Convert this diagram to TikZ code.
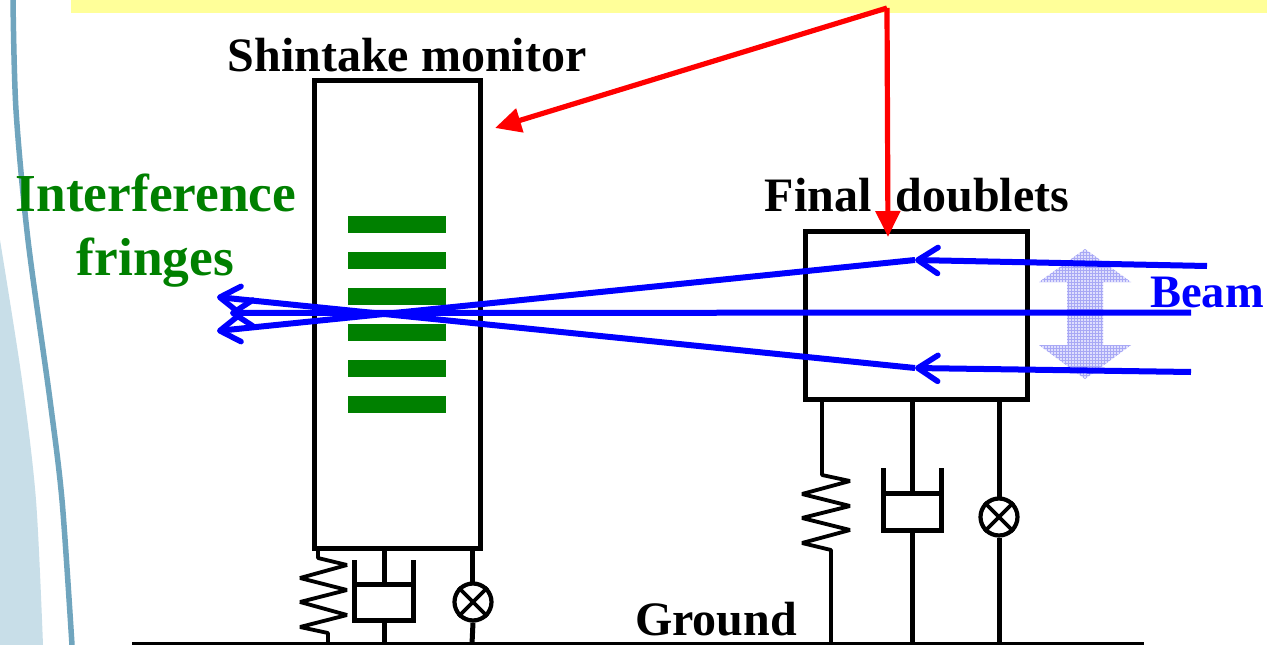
\documentclass[tikz,border=0pt]{standalone}
\usepackage{fontspec}
\setmainfont{Liberation Serif}
\usetikzlibrary{arrows.meta}
\definecolor{fringe}{RGB}{0,128,0}
\definecolor{beamblue}{RGB}{0,0,255}
\definecolor{sheet}{RGB}{255,255,153}
\definecolor{streak}{RGB}{112,165,190}
\definecolor{pale}{RGB}{200,222,232}
\definecolor{ditherlo}{RGB}{222,222,253}
\definecolor{ditherhi}{RGB}{168,168,245}
\tikzset{
  mech/.style={draw=black,line width=5pt,line cap=butt},
  coil/.style={draw=black,line width=3.8pt,line cap=butt,line join=bevel},
  boxed/.style={draw=black,line width=5pt,fill=none,inner sep=0pt},
  barfringe/.style={fill=fringe,draw=none},
  beamline/.style={draw=beamblue,line width=6pt,-{Straight Barb[length=20pt,width=26pt,line width=5.6pt,round]}},
  redarrow/.style={draw=red,line width=5.2pt,-{Triangle[length=26pt,width=24pt]}},
  lbl/.style={font=\bfseries,inner sep=0pt,anchor=base},
}
\begin{document}
\begin{tikzpicture}[x=1pt,y=-1pt]
\useasboundingbox (0,0) rectangle (1267,645);
\fill[white] (0,0) rectangle (1267,645);
% left decoration
\fill[pale] plot[smooth] coordinates {(0,240) (22,380) (36,500) (43,645)} -- (0,645) -- cycle;
\draw[streak,line width=5.5pt] plot[smooth] coordinates {(13,0) (16,110) (28,240) (50,400) (62,500) (72,645)};
% top band
\fill[sheet] (71,0) rectangle (1267,13);
% Shintake monitor
\node[boxed,minimum width=166pt,minimum height=468pt] (sm) at (397,314) {};
\node[lbl,font=\bfseries\fontsize{48}{48}\selectfont] (smt) at (407,71) {Shintake monitor};
\foreach \n/\yy in {a/224.5,b/260.5,c/296.5,d/332.5,e/368.5,f/404.5}
  \node[barfringe,minimum width=98pt,minimum height=17pt,inner sep=0pt] (bar\n) at (397,\yy) {};
\node[lbl,text=fringe,font=\bfseries\fontsize{53.4}{53.4}\selectfont] (if1) at (156,211) {Interference};
\node[lbl,text=fringe,font=\bfseries\fontsize{53.4}{53.4}\selectfont] (if2) at (155.5,275) {fringes};
% Final doublets
\node[boxed,minimum width=222pt,minimum height=168pt] (fd) at (916,315) {};
\node[lbl,font=\bfseries\fontsize{48}{48}\selectfont] (fdt) at (917,211) {Final\ \ doublets};
% Ground
\node[lbl,font=\bfseries\fontsize{48}{48}\selectfont] (gt) at (716,635) {Ground};
\coordinate (g0) at (132,644); \coordinate (g1) at (1144,644);
\draw[black,line width=3.6pt] (g0) -- (g1);
% Scan arrow
\begin{scope}
\path[clip] (1085,249) -- (1131,282) -- (1103,282) -- (1103,345) -- (1131,345) -- (1085,379) -- (1039,345) -- (1067,345) -- (1067,282) -- (1039,282) -- cycle;
\fill[ditherlo] (1030,240) rectangle (1140,390);
\draw[ditherhi,line width=1pt,step=3pt] (1030,240) grid (1140,390);
\end{scope}
% Beam
\coordinate (h1) at (915,260); \coordinate (h2) at (915,368);
\coordinate (b1) at (1207,266); \coordinate (b2) at (1191,312.5); \coordinate (b3) at (1191,372);
\coordinate (t1) at (217,331); \coordinate (t2) at (230,313); \coordinate (t3) at (217,297);
\draw[beamline] (b1) -- (h1);
\draw[beamline] (b3) -- (h2);
\draw[beamline] (h1) -- (t1);
\draw[beamline] (b2) -- (t2);
\draw[beamline] (h2) -- (t3);
\node[lbl,text=beamblue,font=\bfseries\fontsize{46.5}{46.5}\selectfont] (bt) at (1207,307) {Beam};
% Red arrows
\coordinate (r0) at (887,8);
\coordinate (r1) at (495,128);
\coordinate (r2) at (888,237);
\draw[redarrow] (r0) -- (r1);
\draw[redarrow] (r0) -- (r2);
% left supports
\draw[coil] (318,549) -- (318,558) -- (347,565) -- (300,578) -- (347,590) -- (300,602) -- (347,615) -- (300,627) -- (328,633) -- (328,644);
\draw[mech] (384,549) -- (384,584);
\draw[mech,line join=miter] (354,560) -- (354,620) -- (413,620) -- (413,560);
\draw[mech] (354,584) -- (413,584);
\draw[mech] (384,620) -- (384,644);
\draw[mech] (472,549) -- (472,583);
\node[draw=black,line width=4.2pt,circle,minimum size=37pt,inner sep=0pt] (vl) at (473,602) {};
\draw[black,line width=3.8pt] (vl.45) -- (vl.225) (vl.135) -- (vl.315);
\draw[mech] (vl.south) -- (472,644);
% right supports
\draw[coil] (822,399) -- (822,475) -- (850,481) -- (802,494) -- (850,506) -- (802,518) -- (850,530) -- (802,543) -- (831,550) -- (831,644);
\draw[mech] (912,399) -- (912,493);
\draw[mech,line join=miter] (883,468) -- (883,530) -- (941,530) -- (941,468);
\draw[mech] (883,493) -- (941,493);
\draw[mech] (912,530) -- (912,644);
\draw[mech] (999,399) -- (999,498);
\node[draw=black,line width=4.2pt,circle,minimum size=37pt,inner sep=0pt] (vr) at (999,517) {};
\draw[black,line width=3.8pt] (vr.45) -- (vr.225) (vr.135) -- (vr.315);
\draw[mech] (vr.south) -- (999,644);
\end{tikzpicture}
\end{document}
